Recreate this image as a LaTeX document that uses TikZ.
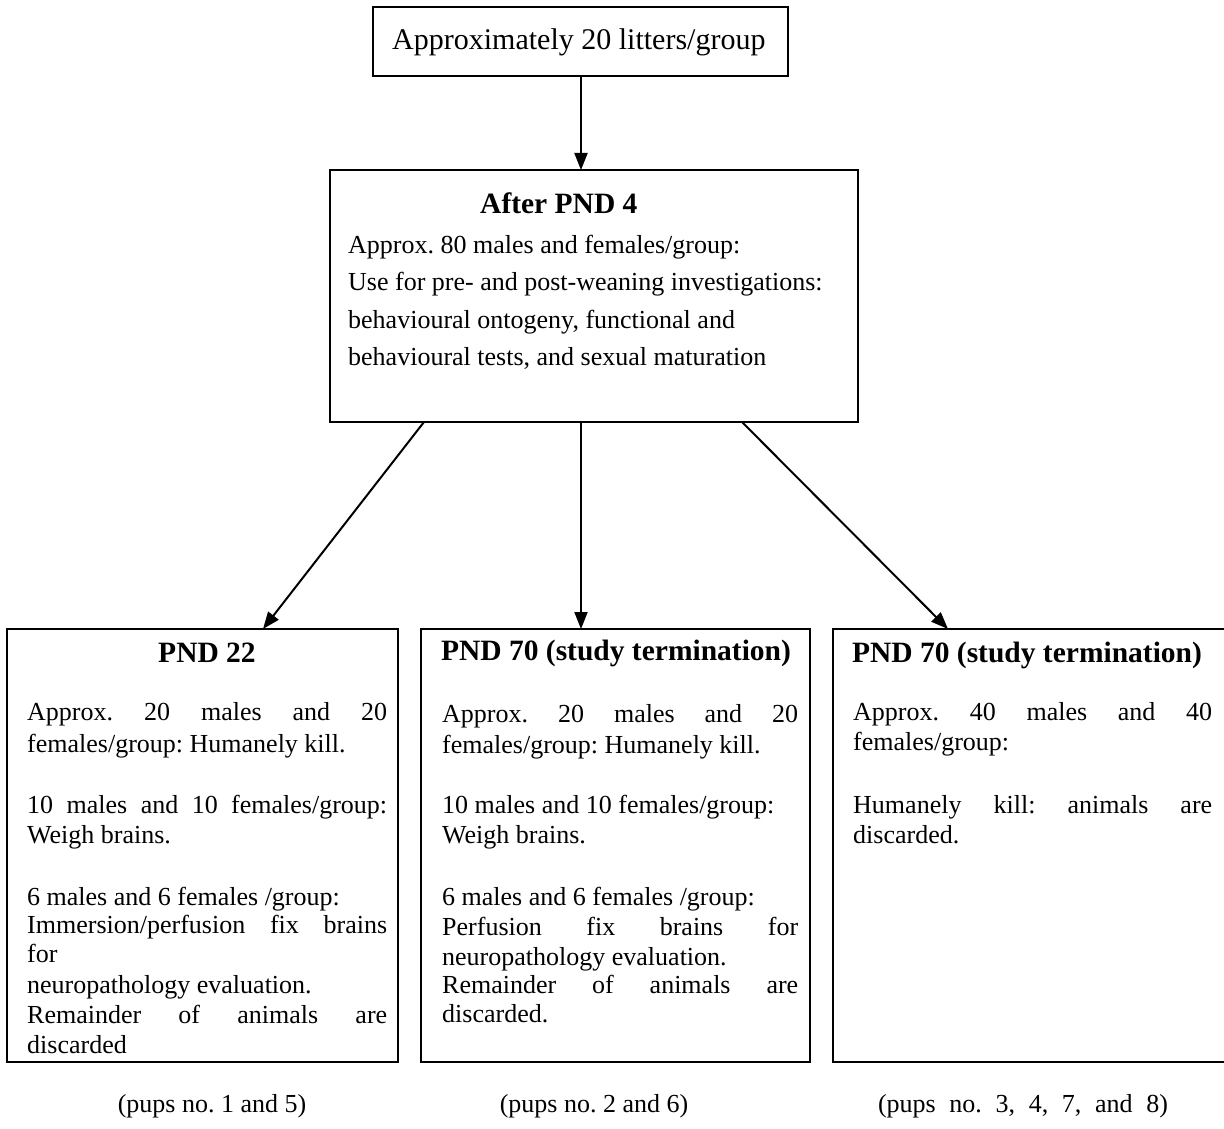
\documentclass[tikz,border=0pt]{standalone}
\usepackage{fontspec}
\setmainfont{Liberation Serif}
\usetikzlibrary{arrows.meta}
\newcommand{\jl}[2]{\makebox[#1][s]{#2}}
\begin{document}
\frenchspacing
\begin{tikzpicture}[x=1pt,y=-1pt,
  box/.style={draw, line width=1.8pt, inner sep=0pt, outer sep=0pt, anchor=north west},
  arr/.style={line width=2pt, -{Triangle[length=17pt,width=13pt]}},
  txt/.style={anchor=base west, inner sep=0pt, font=\fontsize{26}{30}\selectfont},
  toptxt/.style={anchor=base west, inner sep=0pt, font=\fontsize{30}{34}\selectfont},
  ttl/.style={anchor=base, inner sep=0pt, font=\fontsize{29.5}{34}\selectfont\bfseries},
  ttlw/.style={anchor=base west, inner sep=0pt, font=\fontsize{29.5}{34}\selectfont\bfseries},
  captxt/.style={anchor=base, inner sep=0pt, font=\fontsize{26}{30}\selectfont}]
\useasboundingbox (0,0) rectangle (1224,1129);
\fill[white] (0,0) rectangle (1224,1129);
\clip (0,0) rectangle (1224,1129);

% boxes
\node[box, minimum width=415pt, minimum height=69pt] (top) at (373,7) {};
\node[box, minimum width=528pt, minimum height=252pt] (mid) at (330,170) {};
\node[box, minimum width=391pt, minimum height=433pt] (b1) at (7,629) {};
\node[box, minimum width=389pt, minimum height=433pt] (b2) at (421,629) {};
\node[box, minimum width=400pt, minimum height=433pt] (b3) at (833,629) {};

% top text
\node[toptxt] (toptext) at (392,50) {Approximately 20 litters/group};

% middle text
\node[ttlw] (midtitle) at (480,213) {After PND 4};
\node[txt] (m1) at (348,253) {Approx. 80 males and females/group:};
\node[txt] (m2) at (348,290) {Use for pre- and post-weaning investigations:};
\node[txt] (m3) at (348,328) {behavioural ontogeny, functional and};
\node[txt] (m4) at (348,365) {behavioural tests, and sexual maturation};

% left box
\node[ttl] (t1) at (207,662) {PND 22};
\node[txt] (l1) at (27,720) {\jl{360pt}{Approx. 20 males and 20}};
\node[txt] (l2) at (27,752) {females/group: Humanely kill.};
\node[txt] (l3) at (27,813) {\jl{360pt}{10 males and 10 females/group:}};
\node[txt] (l4) at (27,843) {Weigh brains.};
\node[txt] (l5) at (27,905) {6 males and 6 females /group:};
\node[txt] (l6) at (27,933) {\jl{360pt}{Immersion/perfusion fix brains}};
\node[txt] (l7) at (27,962) {for};
\node[txt] (l8) at (27,993) {neuropathology evaluation.};
\node[txt] (l9) at (27,1023) {\jl{360pt}{Remainder of animals are}};
\node[txt] (l10) at (27,1053) {discarded};

% middle box
\node[ttl] (t2) at (616,660) {PND 70 (study termination)};
\node[txt] (c1) at (442,722) {\jl{356pt}{Approx. 20 males and 20}};
\node[txt] (c2) at (442,753) {females/group: Humanely kill.};
\node[txt] (c3) at (442,813) {10 males and 10 females/group:};
\node[txt] (c4) at (442,843) {Weigh brains.};
\node[txt] (c5) at (442,905) {6 males and 6 females /group:};
\node[txt] (c6) at (442,935) {\jl{356pt}{Perfusion fix brains for}};
\node[txt] (c7) at (442,965) {neuropathology evaluation.};
\node[txt] (c8) at (442,993) {\jl{356pt}{Remainder of animals are}};
\node[txt] (c9) at (442,1022) {discarded.};

% right box
\node[ttl] (t3) at (1027,662) {PND 70 (study termination)};
\node[txt] (r1) at (853,720) {\jl{359pt}{Approx. 40 males and 40}};
\node[txt] (r2) at (853,750) {females/group:};
\node[txt] (r3) at (853,813) {\jl{359pt}{Humanely kill: animals are}};
\node[txt] (r4) at (853,843) {discarded.};

% captions
\node[captxt] (cap1) at (212,1112) {(pups no. 1 and 5)};
\node[captxt] (cap2) at (594,1112) {(pups no. 2 and 6)};
\node[captxt] (cap3) at (1023,1112) {\jl{290pt}{(pups no. 3, 4, 7, and 8)}};

% connectors
\coordinate (s1) at (424,422);
\coordinate (s2) at (581,422);
\coordinate (s3) at (742,422);
\coordinate (e1) at (263,629);
\coordinate (e2) at (581,629);
\coordinate (e3) at (948,629);
\draw[arr] (top.south -| s2) -- (mid.north -| s2);
\draw[arr] (s1) -- (e1);
\draw[arr] (s2) -- (e2);
\draw[arr] (s3) -- (e3);
\end{tikzpicture}
\end{document}
